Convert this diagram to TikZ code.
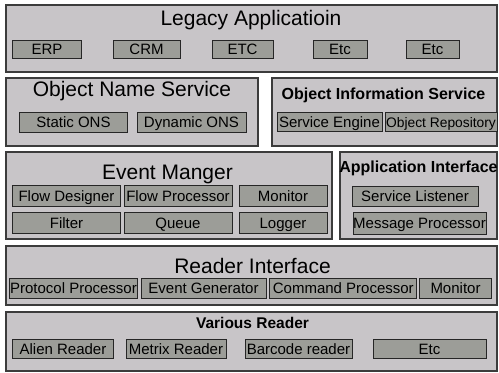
\documentclass[tikz,border=0pt]{standalone}
\usepackage{fontspec}
\setmainfont{Liberation Sans}
\definecolor{layerfill}{HTML}{C8C5C8}
\definecolor{partfill}{HTML}{9C9D98}
\definecolor{edgegray}{HTML}{3C3C3C}
\tikzset{
  layer/.style={draw=edgegray, line width=1.2bp, fill=layerfill, inner sep=0pt},
  part/.style={draw=black!85, line width=1bp, fill=partfill, inner sep=0pt,
    text height=11bp, text depth=0pt, font=\fontsize{15bp}{15bp}\selectfont},
  head/.style={anchor=base, inner sep=0pt, font=\fontsize{21bp}{21bp}\selectfont},
  headbold/.style={anchor=base, inner sep=0pt, font=\bfseries\fontsize{16bp}{16bp}\selectfont}
}
\begin{document}
\begin{tikzpicture}[x=1bp, y=-1bp]
\useasboundingbox[fill=white] (0,0) rectangle (499,372);

% Legacy layer
\node[layer, minimum width=491bp, minimum height=67bp] (legacy) at (251.5,38.5) {};
\node[head] (legacyhead) at (251,25) {Legacy Applicatioin};
\node[part, minimum width=68bp, minimum height=18bp] (erp) at (47,49) {ERP};
\node[part, minimum width=67bp, minimum height=18bp] (crm) at (146.5,49) {CRM};
\node[part, minimum width=61bp, minimum height=18bp] (etcA) at (242.5,49) {ETC};
\node[part, minimum width=54bp, minimum height=18bp] (etcB) at (340,49) {Etc};
\node[part, minimum width=53bp, minimum height=18bp] (etcC) at (432.5,49) {Etc};

% Object name service
\node[layer, minimum width=252bp, minimum height=68bp] (ons) at (132,112) {};
\node[head] (onshead) at (132,96) {Object Name Service};
\node[part, minimum width=107bp, minimum height=20bp] (static) at (73.5,122) {Static ONS};
\node[part, minimum width=109bp, minimum height=20bp] (dynamic) at (191.5,122) {Dynamic ONS};

% Object information service
\node[layer, minimum width=225bp, minimum height=68bp] (ois) at (384.5,112) {};
\node[headbold] (oishead) at (383.5,99.5) {Object Information Service};
\node[part, minimum width=105bp, minimum height=19bp] (engine) at (329.5,121.5) {Service Engine};
\node[part, minimum width=112bp, minimum height=19bp, font=\fontsize{13.8bp}{14bp}\selectfont] (repo) at (441,121.5) {Object Repository};

% Event manager
\node[layer, minimum width=326bp, minimum height=87bp] (event) at (169,195.5) {};
\node[head] (eventhead) at (167.5,179) {Event Manger};
\node[part, minimum width=107bp, minimum height=21bp] (designer) at (66.5,195.5) {Flow Designer};
\node[part, minimum width=108bp, minimum height=21bp] (flowproc) at (178,195.5) {Flow Processor};
\node[part, minimum width=88bp, minimum height=21bp] (monitorA) at (283,195.5) {Monitor};
\node[part, minimum width=107bp, minimum height=21bp] (filter) at (66.5,222.5) {Filter};
\node[part, minimum width=108bp, minimum height=21bp] (queue) at (178,222.5) {Queue};
\node[part, minimum width=88bp, minimum height=21bp] (logger) at (283,222.5) {Logger};

% Application interface
\node[layer, minimum width=157bp, minimum height=87bp] (appif) at (418.5,195.5) {};
\node[headbold] (appifhead) at (418.5,172) {Application Interface};
\node[part, minimum width=126bp, minimum height=20bp] (listener) at (415,196) {Service Listener};
\node[part, minimum width=133bp, minimum height=22bp] (msgproc) at (419.5,223) {Message Processor};

% Reader interface
\node[layer, minimum width=491bp, minimum height=59bp] (readerif) at (251.5,275.5) {};
\node[head] (readerifhead) at (252.5,273) {Reader Interface};
\node[part, minimum width=127bp, minimum height=20bp] (protocol) at (73.5,288) {Protocol Processor};
\node[part, minimum width=125bp, minimum height=20bp] (generator) at (203.5,288) {Event Generator};
\node[part, minimum width=147bp, minimum height=20bp] (command) at (343.3,288) {Command Processor};
\node[part, minimum width=72bp, minimum height=20bp] (monitorB) at (455.5,288) {Monitor};

% Various readers
\node[layer, minimum width=491bp, minimum height=59bp] (readers) at (251.5,341.5) {};
\node[headbold, font=\bfseries\fontsize{15.5bp}{15.5bp}\selectfont] (readershead) at (252.5,328.5) {Various Reader};
\node[part, minimum width=100bp, minimum height=19bp] (alien) at (63,349) {Alien Reader};
\node[part, minimum width=100bp, minimum height=19bp] (metrix) at (176,349) {Metrix Reader};
\node[part, minimum width=107bp, minimum height=19bp] (barcode) at (298.5,349) {Barcode reader};
\node[part, minimum width=113bp, minimum height=19bp] (etcD) at (429.5,349) {Etc};

\end{tikzpicture}
\end{document}
